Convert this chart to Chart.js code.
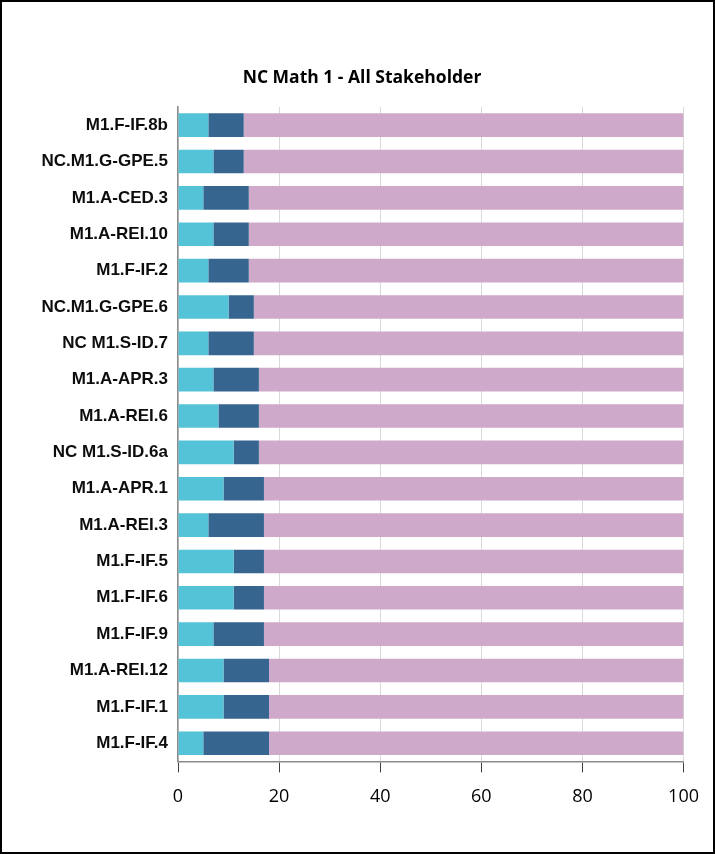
<!DOCTYPE html>
<html lang="en">
<head>
    <meta charset="UTF-8">
    <title>NC Math 1 - All Stakeholder</title>
    <script src="https://cdn.jsdelivr.net/npm/chart.js"></script>
    <style>
        body {
            margin: 0;
            background-color: #ffffff;
        }
        .frame {
            box-sizing: border-box;
            width: 715px;
            height: 854px;
            border: 2px solid #000000;
            position: relative;
        }
        .chart-container {
            position: relative;
            width: 711px;
            height: 850px;
        }
    </style>
</head>
<body>
    <div class="frame">
        <div class="chart-container">
            <canvas id="barChart"></canvas>
        </div>
    </div>

    <script>
        const categories = [
            'M1.F-IF.8b', 'NC.M1.G-GPE.5', 'M1.A-CED.3', 'M1.A-REI.10', 'M1.F-IF.2',
            'NC.M1.G-GPE.6', 'NC M1.S-ID.7', 'M1.A-APR.3', 'M1.A-REI.6', 'NC M1.S-ID.6a',
            'M1.A-APR.1', 'M1.A-REI.3', 'M1.F-IF.5', 'M1.F-IF.6', 'M1.F-IF.9',
            'M1.A-REI.12', 'M1.F-IF.1', 'M1.F-IF.4'
        ];
        const seriesA = [6, 7, 5, 7, 6, 10, 6, 7, 8, 11, 9, 6, 11, 11, 7, 9, 9, 5];
        const seriesB = [7, 6, 9, 7, 8, 5, 9, 9, 8, 5, 8, 11, 6, 6, 10, 9, 9, 13];
        const seriesC = [87, 87, 86, 86, 86, 85, 85, 84, 84, 84, 83, 83, 83, 83, 83, 82, 82, 82];
        const xTicks = [0, 20, 40, 60, 80, 100];

        const colors = ['#54c3d8', '#36658f', '#cfa9c9'];

        const ctx = document.getElementById('barChart').getContext('2d');
        new Chart(ctx, {
            type: 'bar',
            data: {
                labels: categories,
                datasets: [
                    { label: 'A', data: seriesA, backgroundColor: colors[0] },
                    { label: 'B', data: seriesB, backgroundColor: colors[1] },
                    { label: 'C', data: seriesC, backgroundColor: colors[2] }
                ]
            },
            options: {
                indexAxis: 'y',
                responsive: true,
                maintainAspectRatio: false,
                animation: false,
                datasets: {
                    bar: { categoryPercentage: 1, barPercentage: 0.65 }
                },
                layout: {
                    // left padding only shifts the title centre; axis width is fixed below
                    padding: { left: 38, right: 29, top: 0, bottom: 30 }
                },
                scales: {
                    x: {
                        stacked: true,
                        min: 0,
                        max: 100,
                        afterBuildTicks: function(scale) {
                            scale.ticks = xTicks.map(v => ({ value: v }));
                        },
                        grid: {
                            color: '#d9d9d9',
                            tickColor: '#404040',
                            tickLength: 11,
                            lineWidth: 1
                        },
                        border: { color: '#8c8c8c', width: 1.5 },
                        ticks: {
                            padding: 14,
                            color: '#000000',
                            font: { family: "'Open Sans', sans-serif", size: 18 }
                        }
                    },
                    y: {
                        stacked: true,
                        afterFit: function(scale) {
                            scale.width = 138;
                        },
                        grid: { display: false, drawTicks: false },
                        border: { color: '#8c8c8c', width: 1.5 },
                        ticks: {
                            padding: 10,
                            color: '#0d0d0d',
                            font: { family: "'Liberation Sans', Arial, sans-serif", size: 17, weight: 'bold' }
                        }
                    }
                },
                plugins: {
                    legend: { display: false },
                    tooltip: { enabled: false },
                    title: {
                        display: true,
                        text: 'NC Math 1 - All Stakeholder',
                        color: '#000000',
                        font: { family: "'Open Sans', sans-serif", size: 17.5, weight: 'bold' },
                        padding: { top: 66, bottom: 18 }
                    }
                }
            }
        });
    </script>
</body>
</html>
